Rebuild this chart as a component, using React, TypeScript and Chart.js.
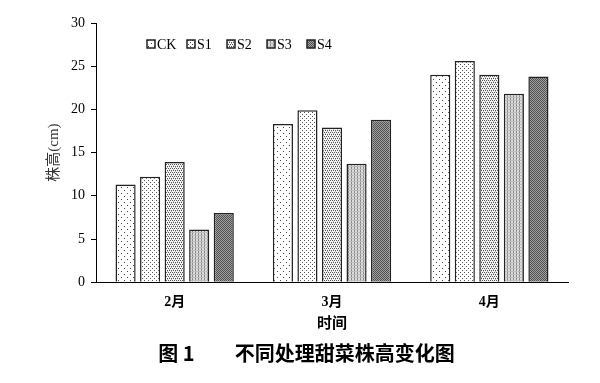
import React, { useEffect, useRef } from "react";
import { Chart, registerables } from "chart.js";

Chart.register(...registerables);

const categories = ["2月", "3月", "4月"];
const seriesNames = ["CK", "S1", "S2", "S3", "S4"];
const CK = [11.3, 18.3, 24.0];
const S1 = [12.2, 19.9, 25.6];
const S2 = [13.9, 17.9, 24.0];
const S3 = [6.1, 13.7, 21.8];
const S4 = [8.0, 18.8, 23.8];
const seriesValues = [CK, S1, S2, S3, S4];

function makePattern(kind: number): CanvasPattern | string {
  const c = document.createElement("canvas");
  const ctx = c.getContext("2d");
  if (!ctx) return "#fff";
  const dot = (x: number, y: number, col: string) => {
    ctx.fillStyle = col;
    ctx.fillRect(x, y, 1, 1);
  };
  if (kind === 0) {
    c.width = 6; c.height = 6;
    ctx.fillStyle = "#fff"; ctx.fillRect(0, 0, 6, 6);
    dot(1, 1, "#444"); dot(4, 4, "#444");
  } else if (kind === 1) {
    c.width = 4; c.height = 4;
    ctx.fillStyle = "#fff"; ctx.fillRect(0, 0, 4, 4);
    dot(0, 0, "#555"); dot(2, 2, "#555");
  } else if (kind === 2) {
    c.width = 4; c.height = 4;
    ctx.fillStyle = "#f6f6f6"; ctx.fillRect(0, 0, 4, 4);
    dot(0, 0, "#555"); dot(2, 0, "#555"); dot(1, 2, "#555"); dot(3, 2, "#555");
    dot(1, 1, "#bbb"); dot(3, 3, "#bbb");
  } else if (kind === 3) {
    c.width = 3; c.height = 3;
    ctx.fillStyle = "#dcdcdc"; ctx.fillRect(0, 0, 3, 3);
    ctx.fillStyle = "#8a8a8a";
    ctx.fillRect(0, 0, 1, 3);
    ctx.fillStyle = "#bdbdbd";
    ctx.fillRect(0, 1, 3, 1);
  } else {
    c.width = 2; c.height = 2;
    ctx.fillStyle = "#a0a0a0"; ctx.fillRect(0, 0, 2, 2);
    dot(0, 0, "#505050"); dot(1, 1, "#505050");
  }
  const p = ctx.createPattern(c, "repeat");
  return p || "#fff";
}

const SERIF = "'Liberation Serif', 'Times New Roman', 'Noto Sans CJK SC', serif";

const legendPlugin = {
  id: "customLegend",
  afterDraw(chart: any) {
    const { ctx, chartArea } = chart;
    const x0 = chartArea.left + 51;
    const y0 = chartArea.top + 21;
    ctx.save();
    ctx.font = `14px ${SERIF}`;
    ctx.textBaseline = "middle";
    chart.data.datasets.forEach((ds: any, i: number) => {
      const x = x0 + i * 40;
      ctx.fillStyle = ds.backgroundColor;
      ctx.fillRect(x, y0 - 4, 8, 8);
      ctx.strokeStyle = "#222";
      ctx.lineWidth = 1.5;
      ctx.strokeRect(x, y0 - 4, 8, 8);
      ctx.fillStyle = "#000";
      ctx.textAlign = "left";
      ctx.fillText(ds.label, x + 10, y0 + 1);
    });
    ctx.restore();
  },
};

export default function App() {
  const ref = useRef<HTMLCanvasElement>(null);
  useEffect(() => {
    document.body.style.margin = "0";
    if (!ref.current) return;
    const datasets = seriesNames.map((name, i) => ({
      label: name,
      data: seriesValues[i],
      backgroundColor: makePattern(i) as any,
      borderColor: "#222",
      borderWidth: 1.5,
      categoryPercentage: 0.78,
      barPercentage: 0.82,
    }));
    const chart = new Chart(ref.current, {
      type: "bar",
      data: { labels: categories, datasets },
      options: {
        animation: false,
        responsive: false,
        maintainAspectRatio: false,
        layout: { padding: { left: 45, right: 32, top: 23, bottom: 18 } },
        plugins: {
          legend: { display: false },
          tooltip: { enabled: false },
          title: {
            display: true,
            position: "bottom",
            text: "图 1\u3000\u3000不同处理甜菜株高变化图",
            color: "#000",
            font: { family: "'Noto Sans CJK SC', sans-serif", size: 20, weight: "bold" },
            padding: { top: 8, bottom: 0 },
          },
        },
        scales: {
          x: {
            grid: { display: false },
            border: { display: true, color: "#000", width: 1 },
            ticks: {
              color: "#000",
              font: { family: SERIF, size: 14, weight: "bold" },
              padding: 4,
            },
            title: {
              display: true,
              text: "时间",
              color: "#000",
              font: { family: SERIF, size: 15, weight: "bold" },
              padding: { top: 0, bottom: 0 },
            },
          },
          y: {
            min: 0,
            max: 30,
            ticks: {
              stepSize: 5,
              color: "#000",
              font: { family: SERIF, size: 14 },
              padding: 6,
            },
            grid: {
              display: true,
              drawOnChartArea: false,
              drawTicks: true,
              tickLength: 5,
              color: "#000",
            },
            border: { display: true, color: "#000", width: 1 },
            title: {
              display: true,
              text: "株高(cm)",
              color: "#333",
              font: { family: SERIF, size: 15 },
              padding: { top: 0, bottom: 2 },
            },
          },
        },
      },
      plugins: [legendPlugin],
    });
    return () => chart.destroy();
  }, []);
  return (
    <div style={{ width: 600, height: 383, background: "#fff" }}>
      <canvas ref={ref} width={600} height={383} style={{ display: "block" }} />
    </div>
  );
}
